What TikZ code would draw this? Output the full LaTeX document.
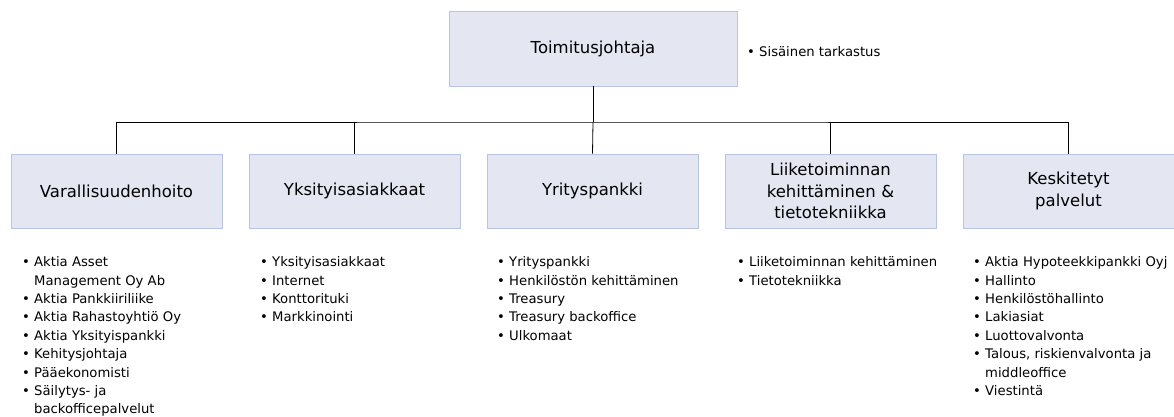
\documentclass[tikz,border=0pt]{standalone}
\usepackage{fontspec}
\setmainfont{DejaVu Sans}
\definecolor{boxfill}{RGB}{228,230,242}
\definecolor{boxdraw}{RGB}{184,196,230}
\newcommand{\itm}[1]{\makebox[12pt][l]{•}#1}
\newcommand{\cnt}[1]{\hspace*{12pt}#1}
\begin{document}
\begin{tikzpicture}[x=1pt,y=-1pt,
  orgbox/.style={draw=boxdraw,fill=boxfill,line width=0.8pt,minimum height=74pt,align=center,inner sep=2pt,font=\fontsize{16.5}{21.5}\selectfont},
  unitbox/.style={orgbox,minimum width=211pt,text width=205pt},
  listtext/.style={anchor=north west,inner sep=0pt,align=left,font=\fontsize{13.2}{18.4}\selectfont},
  link/.style={draw=black,line width=0.8pt}]
\useasboundingbox (0,0) rectangle (1174,417);
\node[orgbox,minimum width=288pt,minimum height=75pt] (ceo) at (593,48.5) {Toimitusjohtaja};
\node[listtext,anchor=west] (audit) at (747,51.5) {\itm{Sisäinen tarkastus}};
\node[unitbox] (u1) at (116.5,191) {Varallisuudenhoito};
\node[unitbox] (u2) at (354.5,191) {Yksityisasiakkaat};
\node[unitbox] (u3) at (592.5,191) {Yrityspankki};
\node[unitbox] (u4) at (830.5,191) {Liiketoiminnan\\kehittäminen \&\\tietotekniikka};
\node[unitbox] (u5) at (1068.5,191) {Keskitetyt\\palvelut};
\coordinate (hub) at (593,122);
\draw[link] (ceo.south) -- (hub);
\draw[link] (u1.north) |- (hub) -| (u5.north);
\draw[link] (u2.north) -- (u2.north |- hub);
\draw[link] (hub) -- (u3.north);
\draw[link] (u4.north) -- (u4.north |- hub);
\node[listtext] (l1) at (22,256.5) {\itm{Aktia Asset}\\\cnt{Management Oy Ab}\\\itm{Aktia Pankkiiriliike}\\\itm{Aktia Rahastoyhtiö Oy}\\\itm{Aktia Yksityispankki}\\\itm{Kehitysjohtaja}\\\itm{Pääekonomisti}\\\itm{Säilytys- ja}\\\cnt{backofficepalvelut}};
\node[listtext] (l2) at (260,256.5) {\itm{Yksityisasiakkaat}\\\itm{Internet}\\\itm{Konttorituki}\\\itm{Markkinointi}};
\node[listtext] (l3) at (497,256.5) {\itm{Yrityspankki}\\\itm{Henkilöstön kehittäminen}\\\itm{Treasury}\\\itm{Treasury backoffice}\\\itm{Ulkomaat}};
\node[listtext] (l4) at (737,256.5) {\itm{Liiketoiminnan kehittäminen}\\\itm{Tietotekniikka}};
\node[listtext] (l5) at (973,256.5) {\itm{Aktia Hypoteekkipankki Oyj}\\\itm{Hallinto}\\\itm{Henkilöstöhallinto}\\\itm{Lakiasiat}\\\itm{Luottovalvonta}\\\itm{Talous, riskienvalvonta ja}\\\cnt{middleoffice}\\\itm{Viestintä}};
\end{tikzpicture}
\end{document}
